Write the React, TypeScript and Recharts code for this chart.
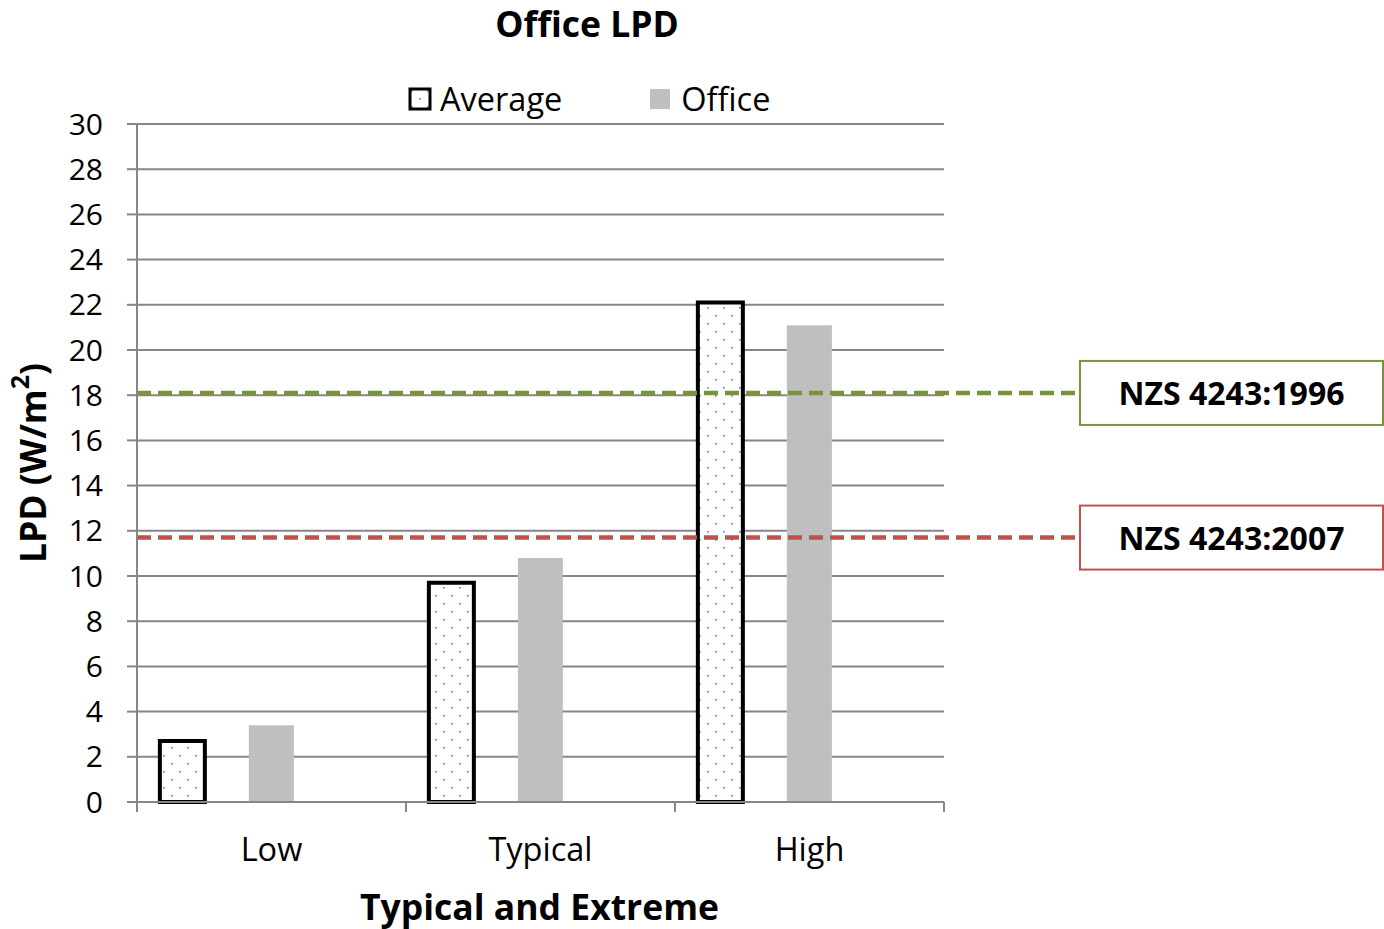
import { ComposedChart, Bar, XAxis, YAxis, CartesianGrid, ReferenceLine } from "recharts";

const categories = ["Low", "Typical", "High"];
const averageValues = [2.7, 9.7, 22.1];
const officeValues = [3.4, 10.8, 21.1];
const yTicks = [0, 2, 4, 6, 8, 10, 12, 14, 16, 18, 20, 22, 24, 26, 28, 30];

const standards = [
  { name: "NZS 4243:1996", value: 18.1, color: "#77933c" },
  { name: "NZS 4243:2007", value: 11.7, color: "#c0504d" },
];

const data = categories.map((c, i) => ({
  name: c,
  average: averageValues[i],
  office: officeValues[i],
  spare: null,
}));

const FONT = "'Open Sans', 'Noto Sans', sans-serif";
const W = 1384;
const H = 929;
const BOX_X = 1080;
const BOX_W = 303;
const BOX_H = 64;

function CategoryTick(props: any) {
  const { x, y, payload, index } = props;
  const half = payload?.offset ?? 134.5;
  return (
    <g>
      <line x1={x - half} y1={y - 8} x2={x - half} y2={y + 2} stroke="#868686" strokeWidth={2} />
      {index === categories.length - 1 && (
        <line x1={x + half} y1={y - 8} x2={x + half} y2={y + 2} stroke="#868686" strokeWidth={2} />
      )}
      <text x={x} y={y + 51} textAnchor="middle" fontSize={32.5} fontFamily={FONT} fill="#000">
        {payload.value}
      </text>
    </g>
  );
}

function StandardLabel(color: string, text: string) {
  return (props: any) => {
    const y = props.viewBox?.y ?? 0;
    return (
      <g>
        <rect x={BOX_X} y={y - BOX_H / 2} width={BOX_W} height={BOX_H} fill="#fff" stroke={color} strokeWidth={2} />
        <text
          x={BOX_X + BOX_W / 2}
          y={y + 12}
          textAnchor="middle"
          fontSize={32}
          fontWeight="bold"
          fontFamily={FONT}
          fill="#000"
        >
          {text}
        </text>
      </g>
    );
  };
}

function DashedToBox(color: string) {
  return (props: any) => (
    <line
      x1={props.x1}
      y1={props.y1}
      x2={BOX_X}
      y2={props.y2}
      stroke={color}
      strokeWidth={4.5}
      strokeDasharray="14 7"
    />
  );
}

export default function App() {
  return (
    <div style={{ position: "absolute", left: 0, top: 0, width: W, height: H, background: "#fff", fontFamily: FONT }}>
      <div
        style={{
          position: "absolute",
          left: 0,
          width: 1174,
          top: 0,
          lineHeight: "46px",
          textAlign: "center",
          fontSize: 35.5,
          fontWeight: "bold",
        }}
      >
        Office LPD
      </div>
      <div style={{ position: "absolute", top: 76, left: 408, display: "flex", alignItems: "center", fontSize: 32.5 }}>
        <svg width={24} height={24} style={{ marginRight: 8 }}>
          <rect x={2} y={2} width={20} height={20} fill="url(#dots)" stroke="#000" strokeWidth={3} />
        </svg>
        <span>Average</span>
        <span style={{ display: "inline-block", width: 20, height: 20, background: "#bfbfbf", marginLeft: 88, marginRight: 11 }} />
        <span>Office</span>
      </div>
      <ComposedChart
        width={W}
        height={H}
        data={data}
        margin={{ top: 124, right: 440, bottom: 67, left: 0 }}
        barCategoryGap="8.5%"
        barGap={44}
      >
        <defs>
          <pattern id="dots" width={16} height={16} patternUnits="userSpaceOnUse">
            <rect width={16} height={16} fill="#fff" />
            <rect x={3} y={3} width={1.6} height={1.6} fill="#4f81bd" />
            <rect x={11} y={11} width={1.6} height={1.6} fill="#4f81bd" />
          </pattern>
        </defs>
        <CartesianGrid vertical={false} stroke="#868686" strokeWidth={2} />
        <XAxis
          dataKey="name"
          height={60}
          axisLine={{ stroke: "#868686", strokeWidth: 2 }}
          tickLine={false}
          tick={<CategoryTick />}
          interval={0}
          label={(p: any) => (
            <text
              x={p.viewBox.x + p.viewBox.width / 2 - 1}
              y={920}
              textAnchor="middle"
              fontSize={35.5}
              fontWeight="bold"
              fontFamily={FONT}
              fill="#000"
            >
              Typical and Extreme
            </text>
          )}
        />
        <YAxis
          width={137}
          domain={[0, 30]}
          ticks={yTicks}
          interval={0}
          axisLine={{ stroke: "#868686", strokeWidth: 2 }}
          tickLine={{ stroke: "#868686", strokeWidth: 2 }}
          tickSize={10}
          tickMargin={24}
          tick={{ fontSize: 30, fontFamily: FONT, fill: "#000" }}
          label={(p: any) => {
            const cy = p.viewBox.y + p.viewBox.height / 2;
            return (
              <text
                transform={`translate(46, ${cy}) rotate(-90)`}
                textAnchor="middle"
                fontSize={35.5}
                fontWeight="bold"
                fontFamily={FONT}
                fill="#000"
              >
                LPD (W/m
                <tspan baseline-shift="super" fontSize={25}>2</tspan>
                )
              </text>
            );
          }}
        />
        <Bar dataKey="average" fill="url(#dots)" stroke="#000" strokeWidth={4} isAnimationActive={false} />
        <Bar dataKey="office" fill="#bfbfbf" isAnimationActive={false} />
        <Bar dataKey="spare" fill="none" isAnimationActive={false} />
        {standards.map((s) => (
          <ReferenceLine
            key={s.name}
            y={s.value}
            shape={DashedToBox(s.color)}
            label={StandardLabel(s.color, s.name)}
          />
        ))}
      </ComposedChart>
    </div>
  );
}
